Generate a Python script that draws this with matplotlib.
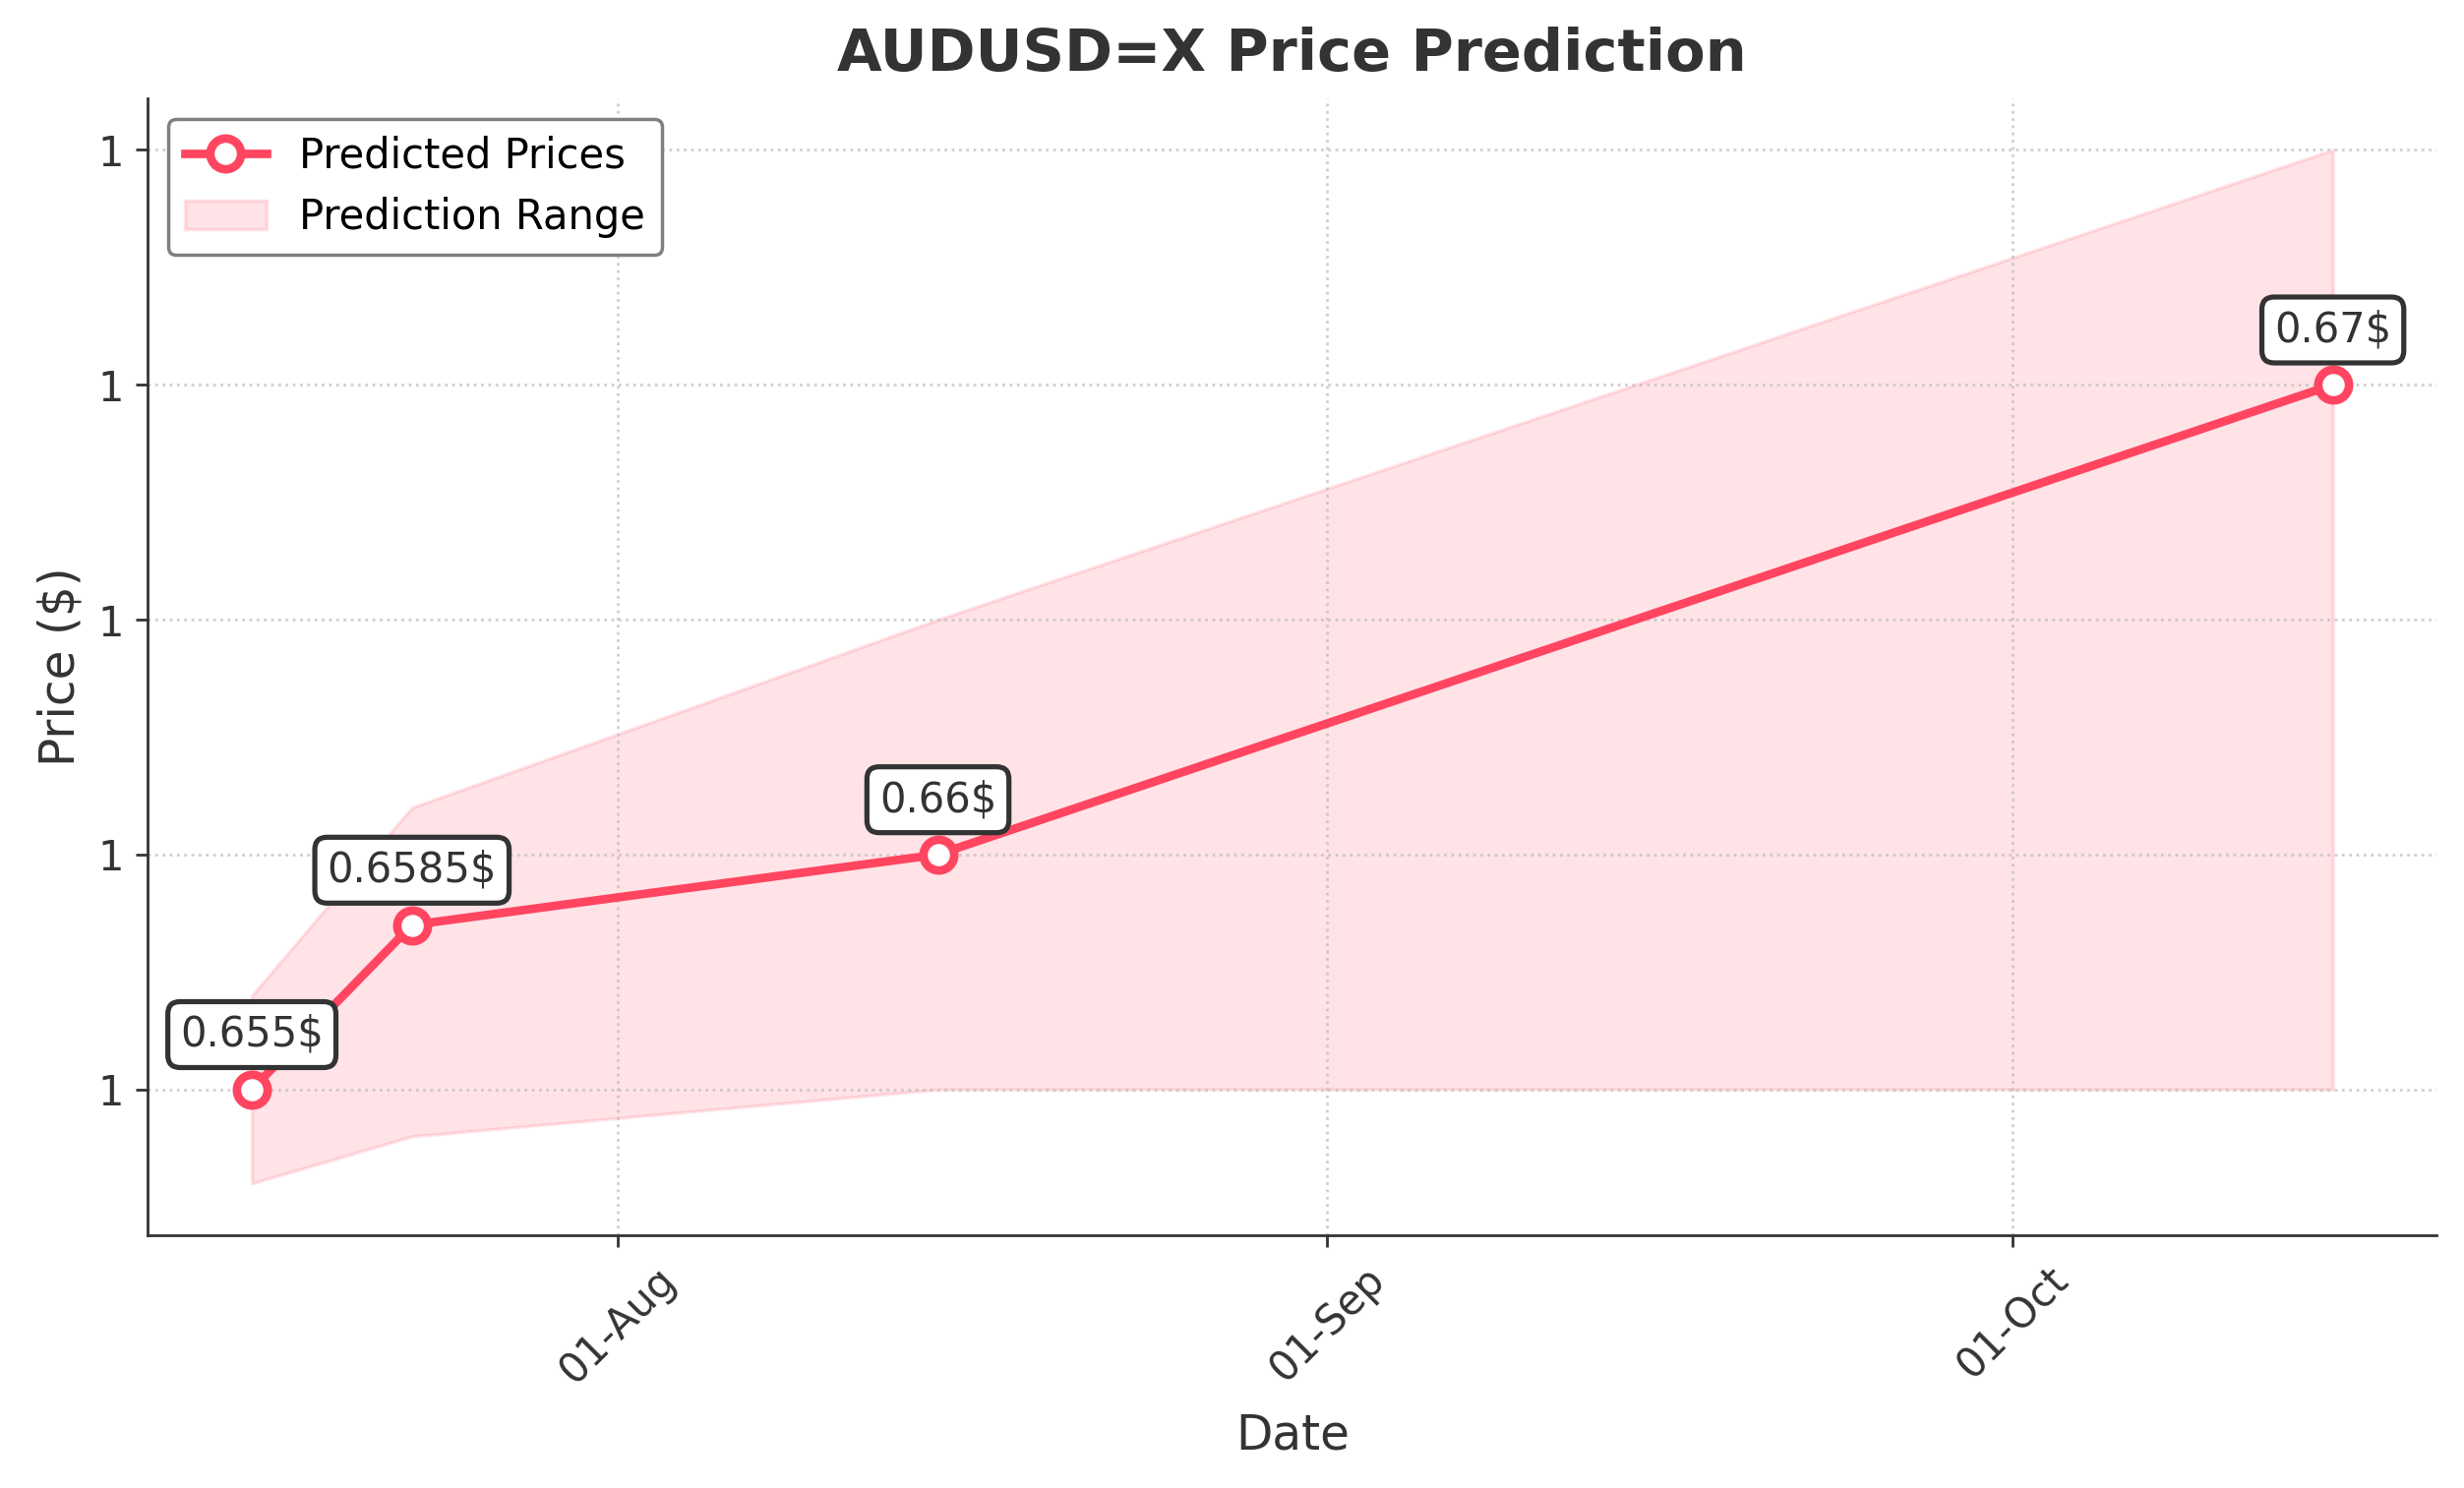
import pandas as pd
import matplotlib
matplotlib.use("Agg")
import matplotlib.dates as mdates
from matplotlib import pyplot as plt
from matplotlib.ticker import FormatStrFormatter, MultipleLocator

LINE_COLOR = "#FF4560"
TEXT_COLOR = "#333333"

dates = pd.to_datetime(["2024-07-16", "2024-07-23", "2024-08-15", "2024-10-15"])
predicted = [0.655, 0.6585, 0.66, 0.67]
upper = [0.657, 0.661, 0.665, 0.675]
lower = [0.653, 0.654, 0.655, 0.655]
labels = ["0.655$", "0.6585$", "0.66$", "0.67$"]

fig, ax = plt.subplots(figsize=(10.02, 6.052), dpi=250)
fig.subplots_adjust(left=0.060, right=0.989, bottom=0.170, top=0.934)

ax.fill_between(dates, lower, upper, color=LINE_COLOR, alpha=0.15,
                linewidth=1, label="Prediction Range")
ax.plot(dates, predicted, color=LINE_COLOR, linewidth=2.5, marker="o",
        markersize=9, markerfacecolor="white", markeredgecolor=LINE_COLOR,
        markeredgewidth=2.5, label="Predicted Prices", zorder=3)

for d, p, txt in zip(dates, predicted, labels):
    ax.annotate(txt, (d, p), xytext=(0, 10), textcoords="offset points",
                ha="center", va="bottom", fontsize=12, color=TEXT_COLOR,
                bbox=dict(boxstyle="round,pad=0.3", facecolor="white",
                          edgecolor=TEXT_COLOR, linewidth=1.5), zorder=4)

ax.set_title("AUDUSD=X Price Prediction", fontsize=17, fontweight="bold",
             color=TEXT_COLOR, pad=8)
ax.set_xlabel("Date", fontsize=14, color=TEXT_COLOR, labelpad=6)
ax.set_ylabel("Price ($)", fontsize=14, color=TEXT_COLOR)

ax.xaxis.set_major_locator(mdates.MonthLocator())
ax.xaxis.set_major_formatter(mdates.DateFormatter("%d-%b"))
ax.yaxis.set_major_locator(MultipleLocator(0.005))
ax.yaxis.set_major_formatter(FormatStrFormatter("%.0f"))
plt.setp(ax.get_xticklabels(), rotation=45)
ax.tick_params(labelsize=12, colors=TEXT_COLOR)

ax.grid(True, linestyle=":", color="#bbbbbb", alpha=0.7)
for side in ["top", "right"]:
    ax.spines[side].set_visible(False)
for side in ["left", "bottom"]:
    ax.spines[side].set_color(TEXT_COLOR)

handles, lbls = ax.get_legend_handles_labels()
leg = ax.legend(handles[::-1], lbls[::-1], loc="upper left", fontsize=12,
                framealpha=1, edgecolor="gray")

fig.savefig("out.png", dpi=250)
